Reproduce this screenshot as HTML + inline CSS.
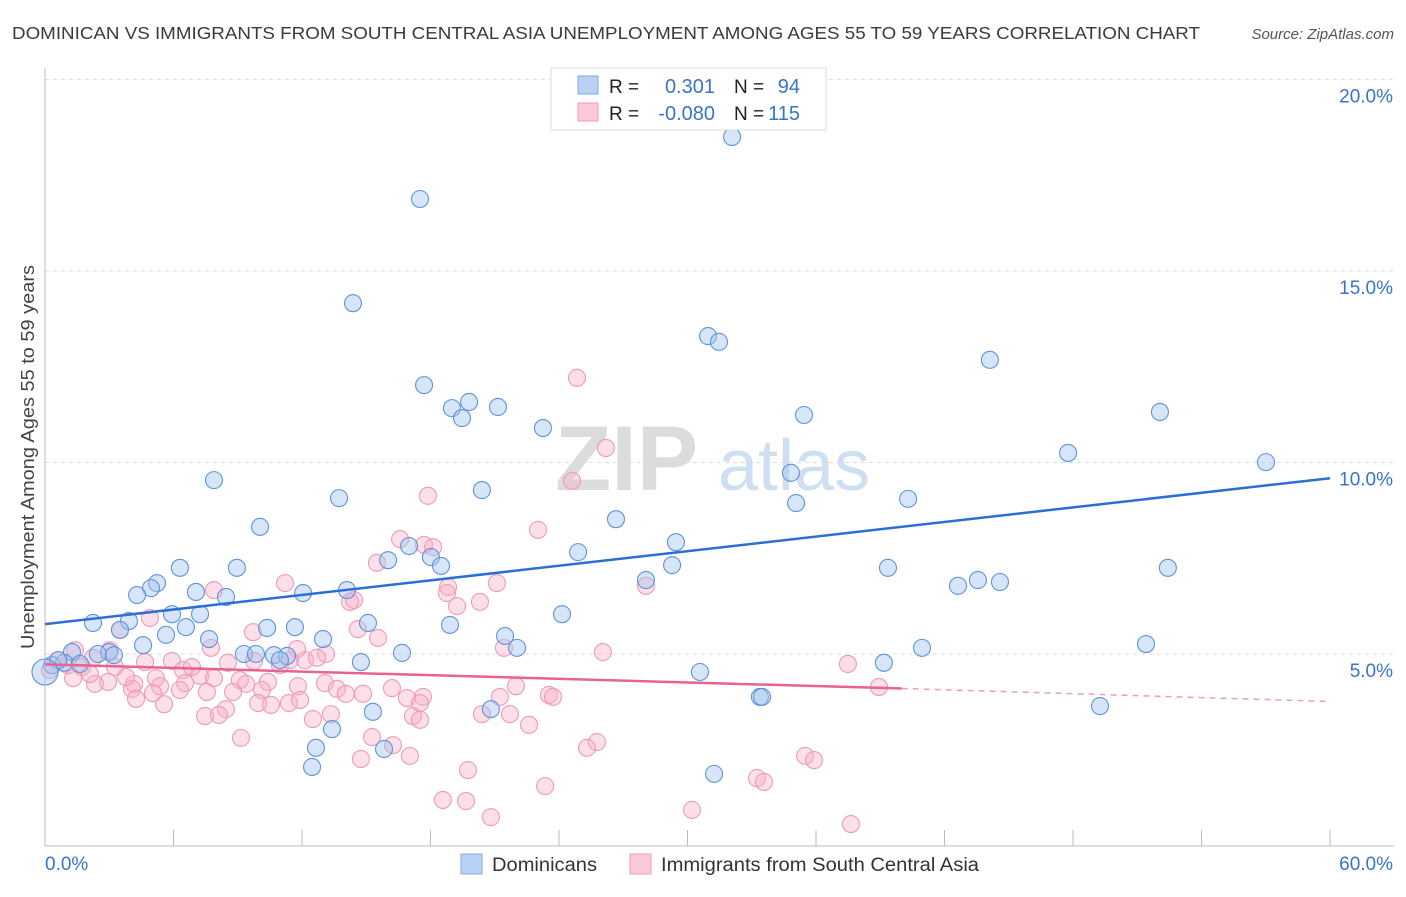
<!DOCTYPE html>
<html><head><meta charset="utf-8"><style>
body{margin:0;background:#fff;font-family:"Liberation Sans",sans-serif;}
svg text{font-family:"Liberation Sans",sans-serif;}
</style></head><body>
<svg id="chart" width="1406" height="892" xmlns="http://www.w3.org/2000/svg">
<text x="12" y="39" font-size="17.5" fill="#3a3a3a" textLength="1188" lengthAdjust="spacingAndGlyphs">DOMINICAN VS IMMIGRANTS FROM SOUTH CENTRAL ASIA UNEMPLOYMENT AMONG AGES 55 TO 59 YEARS CORRELATION CHART</text>
<text x="1394" y="39" font-size="15" fill="#555" font-style="italic" text-anchor="end">Source: ZipAtlas.com</text>
<g>
<text x="555" y="490" font-size="92" fill="#dcdcdc" font-family="Liberation Serif,serif" font-weight="bold">ZIP</text>
<text x="718" y="490" font-size="72" fill="#cfdff2">atlas</text>
</g>
<g id="grid"></g>
<g id="axes"></g>
<g id="pts"></g>
<g id="lines"></g>
<text transform="translate(34,457) rotate(-90)" font-size="18" fill="#444" text-anchor="middle" textLength="384" lengthAdjust="spacingAndGlyphs">Unemployment Among Ages 55 to 59 years</text>
<g>
<rect x="551" y="68" width="275" height="62" fill="#fff" stroke="#ddd"/>
<rect x="578" y="76" width="20" height="18" fill="#b9d2f4" stroke="#7ea8e6"/>
<rect x="578" y="103" width="20" height="18" fill="#fbc9d8" stroke="#f09ab5"/>
<text x="609" y="93" font-size="19" fill="#222">R =</text>
<text x="715" y="93" font-size="20" fill="#3a74c8" text-anchor="end">0.301</text>
<text x="734" y="93" font-size="19" fill="#222">N =</text>
<text x="800" y="93" font-size="20" fill="#3a74c8" text-anchor="end">94</text>
<text x="609" y="120" font-size="19" fill="#222">R =</text>
<text x="715" y="120" font-size="20" fill="#3a74c8" text-anchor="end">-0.080</text>
<text x="734" y="120" font-size="19" fill="#222">N =</text>
<text x="800" y="120" font-size="20" fill="#3a74c8" text-anchor="end">115</text>
</g>
<g>
<rect x="461" y="854" width="21" height="20" fill="#b9d2f4" stroke="#7ea8e6"/>
<text x="492" y="871" font-size="19" fill="#333" textLength="105" lengthAdjust="spacingAndGlyphs">Dominicans</text>
<rect x="630" y="854" width="21" height="20" fill="#fbc9d8" stroke="#f09ab5"/>
<text x="661" y="871" font-size="19" fill="#333" textLength="318" lengthAdjust="spacingAndGlyphs">Immigrants from South Central Asia</text>
</g>
</svg>
<script>
const yTicks=[5,10,15,20];
const yTickLabels=["5.0%","10.0%","15.0%","20.0%"];
const xTickLabels=["0.0%","60.0%"];
const bluePx=[[732,137],[420,199],[353,303],[708,336],[719,342],[990,360],[424,385],[469,402],[452,408],[498,407],[462,418],[1160,412],[804,415],[543,428],[1068,453],[1266,462],[214,480],[791,473],[482,490],[339,498],[796,503],[908,499],[260,527],[616,519],[409,546],[676,542],[578,552],[431,557],[388,560],[441,566],[180,568],[237,568],[672,565],[888,568],[1168,568],[157,583],[151,588],[347,590],[646,580],[978,580],[958,586],[1000,582],[137,595],[196,592],[303,593],[226,597],[172,614],[200,614],[129,621],[562,614],[186,627],[368,623],[450,625],[267,628],[295,627],[120,630],[93,623],[209,639],[166,635],[143,645],[505,636],[1146,644],[323,639],[517,648],[922,648],[109,652],[402,653],[244,654],[256,654],[274,655],[287,656],[72,652],[98,654],[114,655],[52,665],[64,663],[80,664],[58,660],[361,662],[280,660],[884,663],[700,672],[760,697],[762,697],[373,712],[491,709],[1100,706],[332,729],[316,748],[384,749],[312,767],[714,774],[45,672]];
const pinkPx=[[577,378],[606,448],[572,481],[428,496],[538,530],[400,539],[424,545],[377,563],[433,547],[497,583],[285,583],[448,587],[214,590],[646,586],[354,600],[447,593],[480,602],[457,606],[350,602],[150,618],[120,630],[253,632],[358,629],[378,638],[504,648],[211,648],[603,652],[848,664],[110,650],[75,650],[93,658],[145,662],[172,661],[183,670],[192,667],[115,667],[305,660],[326,654],[297,649],[317,658],[280,665],[254,661],[290,660],[228,663],[200,676],[156,678],[214,678],[134,684],[108,682],[132,689],[160,686],[185,683],[95,684],[73,678],[240,680],[246,684],[233,692],[268,682],[298,686],[325,683],[337,689],[346,694],[262,690],[392,688],[407,698],[423,697],[516,686],[549,695],[553,697],[879,687],[164,704],[258,703],[271,705],[289,703],[226,709],[136,699],[205,716],[219,715],[413,716],[241,738],[313,719],[331,714],[482,714],[510,714],[529,725],[372,737],[361,759],[393,745],[410,756],[587,748],[597,742],[805,756],[814,760],[468,770],[757,778],[764,782],[443,800],[466,801],[545,786],[692,810],[491,817],[851,824],[59,660],[68,665],[82,667],[50,670],[90,674],[126,677],[153,693],[207,692],[363,694],[420,703],[500,697],[420,720],[300,700],[180,690]];
const r2=v=>Math.round(v*100)/100;
const blueX=bluePx.map(p=>r2((p[0]-45)/21.417));
const blueY=bluePx.map(p=>r2((845.5-p[1])/38.3));
const pinkX=pinkPx.map(p=>r2((p[0]-45)/21.417));
const pinkY=pinkPx.map(p=>r2((845.5-p[1])/38.3));
const blueTrend=[5.78,9.59];
const pinkTrend=[4.73,4.10,3.76];

const X0=45,X1=1330,Y0=845.5,Y1=79.5;
const sx=v=>X0+(X1-X0)*v/60;
const sy=v=>Y0-(Y0-Y1)*v/20;
const NS="http://www.w3.org/2000/svg";
function mk(tag,attrs,parent){const e=document.createElementNS(NS,tag);for(const k in attrs)e.setAttribute(k,attrs[k]);parent.appendChild(e);return e;}
const grid=document.getElementById('grid'),axes=document.getElementById('axes');
yTicks.forEach((t,i)=>{
 const g=mk('line',{x1:X0,x2:1394,y1:sy(t),y2:sy(t),stroke:'#dcdcdc','stroke-dasharray':'4,4'},grid);
 
 
 const tx=mk('text',{x:1393,y:sy(t)+23,'font-size':19,fill:'#3a74c8','text-anchor':'end'},axes);
 tx.textContent=yTickLabels[i];
 
 
});
const ax=mk('line',{x1:X0,x2:X0,y1:68,y2:846,stroke:'#bbb'},axes);


const bx=mk('line',{x1:X0,x2:1394,y1:846,y2:846,stroke:'#bbb'},axes);


for(let i=0;i<=10;i++){const t=mk('line',{x1:sx(i*6),x2:sx(i*6),y1:830,y2:846,stroke:'#bbb'},axes);
 
 }
[[0,'start',45],[60,'end',1393]].forEach((a,i)=>{const t=mk('text',{x:a[2],y:870,'font-size':19,fill:'#3a74c8','text-anchor':a[1]},axes);t.textContent=xTickLabels[i];
 
 });
const pts=document.getElementById('pts');
pinkX.forEach((x,i)=>{const c=mk('circle',{cx:sx(x),cy:sy(pinkY[i]),r:8.5,fill:'rgba(248,175,198,0.4)',stroke:'#f09ab5','stroke-width':1.1},pts);
 
 });
blueX.forEach((x,i)=>{const c=mk('circle',{cx:sx(x),cy:sy(blueY[i]),r:(i===blueX.length-1?13:8.5),fill:'rgba(165,198,240,0.45)',stroke:'#5f93db','stroke-width':1.1},pts);
 
 });
const lines=document.getElementById('lines');
const bl=mk('line',{x1:sx(0),y1:sy(blueTrend[0]),x2:sx(60),y2:sy(blueTrend[1]),stroke:'#2b6fd6','stroke-width':2.5},lines);


const pl=mk('line',{x1:sx(0),y1:sy(pinkTrend[0]),x2:sx(40),y2:sy(pinkTrend[1]),stroke:'#e8638f','stroke-width':2.5},lines);


const pd=mk('line',{x1:sx(40),y1:sy(pinkTrend[1]),x2:sx(60),y2:sy(pinkTrend[2]),stroke:'#e8a0b8','stroke-width':1.5,'stroke-dasharray':'6,5'},lines);


</script>
</body></html>
